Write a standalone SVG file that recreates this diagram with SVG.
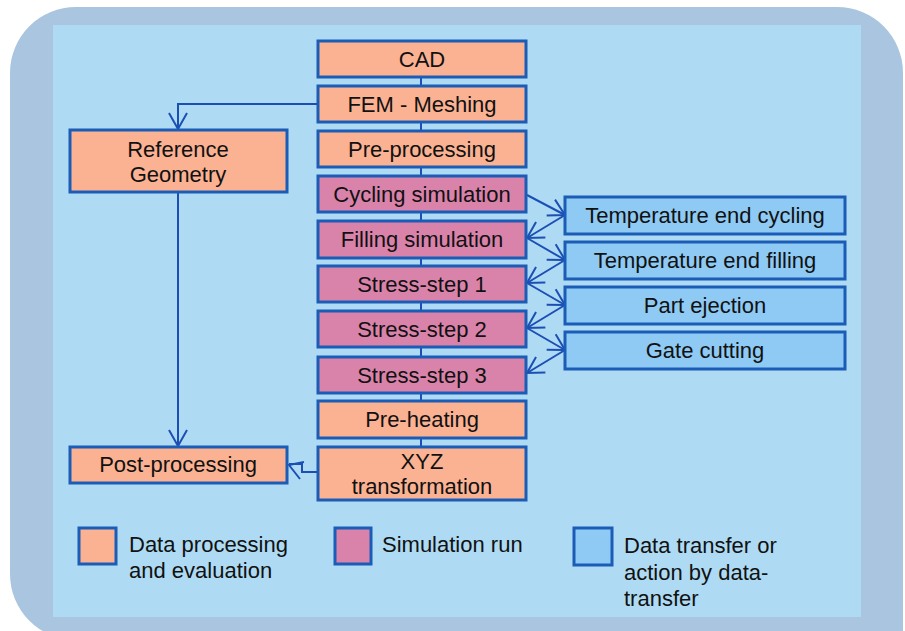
<svg xmlns="http://www.w3.org/2000/svg" width="905" height="631" viewBox="0 0 905 631">
  <style>
    .box { stroke: #1b5cb6; stroke-width: 3; }
    .proc { fill: #fbb293; }
    .sim { fill: #d983ab; }
    .xfer { fill: #8ecaf4; }
    .lbl { font-family: "Liberation Sans", Arial, sans-serif; font-size: 22px; fill: #111; text-anchor: middle; }
    .leg { font-family: "Liberation Sans", Arial, sans-serif; font-size: 22px; fill: #111; }
    .wire { fill: none; stroke: #1c4fb4; stroke-width: 2; }
  </style>
  <defs>
    <marker id="vee" viewBox="-18 -11 20 22" refX="0" refY="0" markerWidth="20" markerHeight="22" markerUnits="userSpaceOnUse" orient="auto">
      <path d="M-16,-9 L0,0 L-16,9" fill="none" stroke="#1c4fb4" stroke-width="2"/>
    </marker>
  </defs>

  <!-- frame -->
  <rect x="0" y="0" width="905" height="631" fill="#ffffff"/>
  <path d="M76,7 H837 A66,66 0 0 1 903,73 V640 H76 A66,66 0 0 1 10,574 V73 A66,66 0 0 1 76,7 Z" fill="#a9c5df"/>
  <rect x="53" y="25" width="808" height="592" fill="#aedbf3"/>

  <!-- connectors -->
  <g id="connectors">
    <!-- main column links -->
    <path class="wire" d="M421,77 V86 M421,122 V131 M421,167 V176 M421,212 V221 M421,258 V266 M421,302 V311 M421,347 V357 M421,393 V401 M421,438 V447"/>
    <path class="wire" d="M318,104 H178 V129" marker-end="url(#vee)"/>
    <path class="wire" d="M178,193 V446" marker-end="url(#vee)"/>
    <path class="wire" d="M318,472 H302 V464 H289"/>
    <path class="wire" d="M304,462 L289,465 L300,479"/>
    <!-- exchange with transfer steps -->
    <path class="wire" d="M527,195 L565,215" marker-end="url(#vee)"/>
    <path class="wire" d="M565,215 L527,238" marker-end="url(#vee)"/>
    <path class="wire" d="M527,238 L565,260" marker-end="url(#vee)"/>
    <path class="wire" d="M565,260 L527,283" marker-end="url(#vee)"/>
    <path class="wire" d="M527,283 L565,305" marker-end="url(#vee)"/>
    <path class="wire" d="M565,305 L527,328" marker-end="url(#vee)"/>
    <path class="wire" d="M527,328 L565,350" marker-end="url(#vee)"/>
    <path class="wire" d="M565,350 L527,373" marker-end="url(#vee)"/>
  </g>

  <!-- main column -->
  <g id="cad"><rect class="box proc" x="318" y="41" width="208" height="36"/><text class="lbl" x="422" y="67">CAD</text></g>
  <g id="fem-meshing"><rect class="box proc" x="318" y="86" width="208" height="36"/><text class="lbl" x="422" y="112">FEM - Meshing</text></g>
  <g id="pre-processing"><rect class="box proc" x="318" y="131" width="208" height="36"/><text class="lbl" x="422" y="157">Pre-processing</text></g>
  <g id="cycling-simulation"><rect class="box sim" x="318" y="176" width="208" height="36"/><text class="lbl" x="422" y="202">Cycling simulation</text></g>
  <g id="filling-simulation"><rect class="box sim" x="318" y="221" width="208" height="37"/><text class="lbl" x="422" y="247">Filling simulation</text></g>
  <g id="stress-step-1"><rect class="box sim" x="318" y="266" width="208" height="36"/><text class="lbl" x="422" y="292">Stress-step 1</text></g>
  <g id="stress-step-2"><rect class="box sim" x="318" y="311" width="208" height="36"/><text class="lbl" x="422" y="337">Stress-step 2</text></g>
  <g id="stress-step-3"><rect class="box sim" x="318" y="357" width="208" height="36"/><text class="lbl" x="422" y="383">Stress-step 3</text></g>
  <g id="pre-heating"><rect class="box proc" x="318" y="401" width="208" height="37"/><text class="lbl" x="422" y="427">Pre-heating</text></g>
  <g id="xyz-transformation"><rect class="box proc" x="318" y="447" width="208" height="53"/><text class="lbl" x="422" y="469">XYZ</text><text class="lbl" x="422" y="494">transformation</text></g>

  <!-- left column -->
  <g id="reference-geometry"><rect class="box proc" x="70" y="130" width="217" height="62"/><text class="lbl" x="178" y="157">Reference</text><text class="lbl" x="178" y="182">Geometry</text></g>
  <g id="post-processing"><rect class="box proc" x="70" y="447" width="217" height="36"/><text class="lbl" x="178" y="472">Post-processing</text></g>

  <!-- transfer steps -->
  <g id="temperature-end-cycling"><rect class="box xfer" x="565" y="197" width="280" height="37"/><text class="lbl" x="705" y="223">Temperature end cycling</text></g>
  <g id="temperature-end-filling"><rect class="box xfer" x="565" y="242" width="280" height="37"/><text class="lbl" x="705" y="268">Temperature end filling</text></g>
  <g id="part-ejection"><rect class="box xfer" x="565" y="287" width="280" height="37"/><text class="lbl" x="705" y="313">Part ejection</text></g>
  <g id="gate-cutting"><rect class="box xfer" x="565" y="332" width="280" height="37"/><text class="lbl" x="705" y="358">Gate cutting</text></g>

  <!-- legend -->
  <g id="legend">
    <rect class="box proc" x="79" y="528" width="37" height="36"/>
    <text class="leg" x="129" y="552">Data processing</text>
    <text class="leg" x="129" y="578">and evaluation</text>
    <rect class="box sim" x="335" y="528" width="36" height="36"/>
    <text class="leg" x="382" y="552">Simulation run</text>
    <rect class="box xfer" x="574" y="528" width="38" height="37"/>
    <text class="leg" x="624" y="553">Data transfer or</text>
    <text class="leg" x="624" y="580">action by data-</text>
    <text class="leg" x="624" y="606">transfer</text>
  </g>
</svg>
